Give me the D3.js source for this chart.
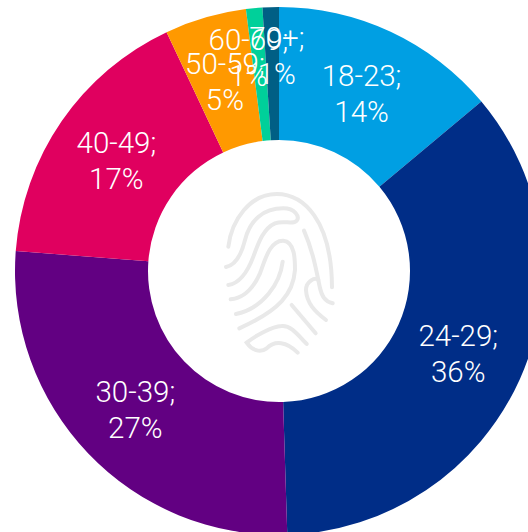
<!DOCTYPE html>
<html>
<head>
<meta charset="utf-8">
<script src="https://cdn.jsdelivr.net/npm/d3@7"></script>
<style>
html, body { margin: 0; padding: 0; background: #fff; overflow: hidden; }
svg { display: block; }
</style>
</head>
<body>
<script>
// values
var categories = ['18-23', '24-29', '30-39', '40-49', '50-59', '60-69', '70+'];
var values = [13.9, 35.6, 26.7, 16.8, 5.0, 1.0, 1.0];
var labels = ['14%', '36%', '27%', '17%', '5%', '1%', '1%'];
var colors = ['#009fe3', '#002d87', '#620082', '#e0005f', '#ff9900', '#00d09a', '#005f85'];

var printPaths = [
	'M85 230 C95 150 150 72 230 72 C310 72 395 150 396 352',
	'M78 291 C110 285 125 250 135 210 C150 150 190 115 250 115 C285 115 300 140 290 152 C280 165 250 150 225 160 C190 175 175 220 160 260 C145 300 120 340 85 345',
	'M92 388 C130 385 160 355 180 310 C195 270 210 210 250 212 C285 215 285 270 285 300 C280 370 240 420 118 475',
	'M248 275 C240 340 190 415 108 432',
	'M312 182 C335 235 345 280 358 345 C365 380 375 395 398 400',
	'M378 450 C345 425 320 400 318 360 C318 335 345 320 355 330',
	'M275 405 L347 490',
	'M320 522 C290 490 270 465 245 468 C215 470 170 495 140 518 C155 540 180 550 200 535 C225 510 260 515 293 548'
];

var width = 528,
	height = 532;

var svg = d3.select('body')
	.append('svg')
	.attr('width', width)
	.attr('height', height);

var g = svg.append('g')
	.attr('transform', 'translate(279, 271)');

var pie = d3.pie()
	.sort(null)
	.value(function(d) { return d; });

var arc = d3.arc()
	.innerRadius(131)
	.outerRadius(264);

var arcs = pie(values);

g.selectAll('path.slice')
	.data(arcs)
	.enter().append('path')
	.attr('class', 'slice')
	.attr('fill', function(d, i) { return colors[i]; })
	.attr('d', arc);

// labels in the original are a bit off the centroid, the small top slices a lot
var nudge = { '18-23': [-1, 0], '24-29': [-1, 0], '30-39': [-1, 0], '50-59': [1, -1], '60-69': [-12, -18], '70+': [4, -20] };

var text = g.selectAll('text')
	.data(arcs)
	.enter().append('text')
	.attr('text-anchor', 'middle')
	.attr('fill', '#fff')
	.attr('font-family', 'Roboto, sans-serif')
	.attr('font-weight', 300)
	.attr('font-size', 29.5)
	.attr('transform', function(d, i) {
		var c = arc.centroid(d);
		var n = nudge[categories[i]] || [0, 0];
		return 'translate(' + (c[0] + n[0]) + ',' + (c[1] + n[1]) + ')';
	});

text.append('tspan')
	.attr('x', 0)
	.attr('y', -6)
	.text(function(d, i) { return categories[i] + ';'; });

text.append('tspan')
	.attr('x', 0)
	.attr('y', 30)
	.text(function(d, i) { return labels[i]; });

svg.append('g')
	.attr('transform', 'translate(200, 170) scale(0.3333)')
	.selectAll('path')
	.data(printPaths)
	.enter().append('path')
	.attr('d', function(d) { return d; })
	.attr('fill', 'none')
	.attr('stroke', '#e9e9e9')
	.attr('stroke-width', 12)
	.attr('stroke-linecap', 'round');
</script>
</body>
</html>
